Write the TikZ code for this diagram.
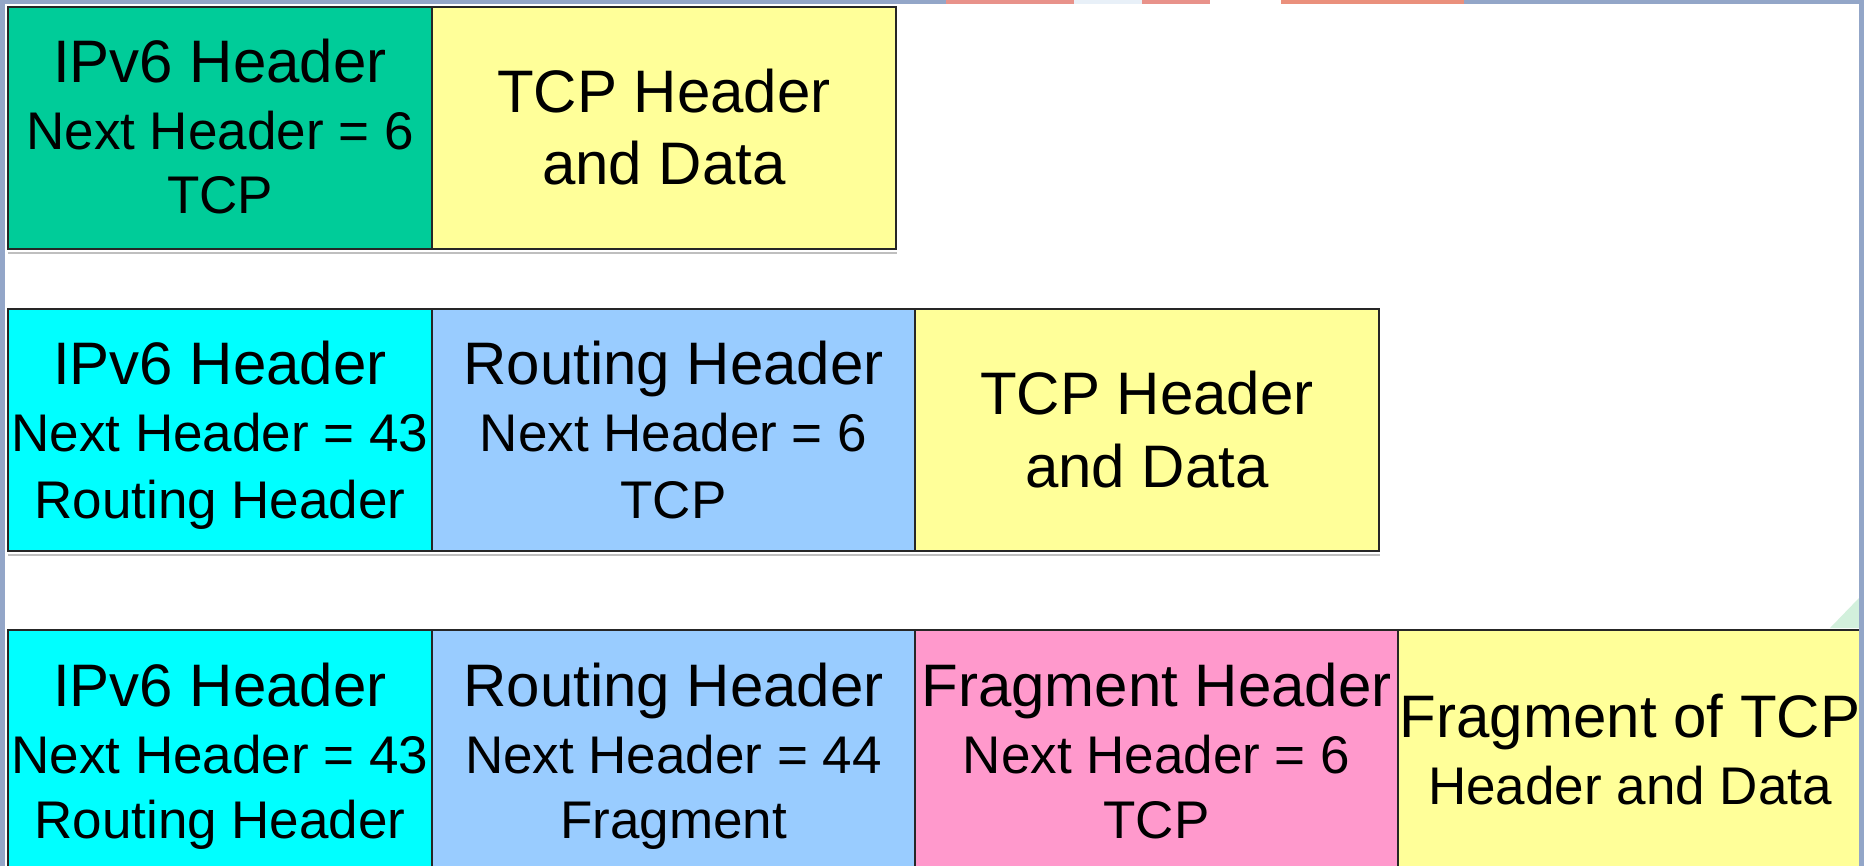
\documentclass[tikz,border=0pt]{standalone}
\usepackage{fontspec}
\setmainfont{Liberation Sans}
\usetikzlibrary{calc}
\definecolor{frameblue}{HTML}{93A6C8}
\definecolor{ipgreen}{HTML}{00CC99}
\definecolor{pktyellow}{HTML}{FFFF99}
\definecolor{ipcyan}{HTML}{00FFFF}
\definecolor{rtblue}{HTML}{99CCFF}
\definecolor{frpink}{HTML}{FF99CC}
\definecolor{salmon}{HTML}{E8928A}
\definecolor{paleblue}{HTML}{E8F0F8}
\definecolor{palegreen}{HTML}{D2F0DC}
\tikzset{
  pbox/.style={draw=black!85, line width=2pt, rectangle, anchor=north west, minimum height=242pt, inner sep=0pt},
  bigtxt/.style={anchor=base, inner sep=0pt, font=\fontsize{60}{72}\selectfont},
  smalltxt/.style={anchor=base, inner sep=0pt, font=\fontsize{53}{64}\selectfont},
  shadowline/.style={draw=black!25, line width=2pt}
}
\begin{document}
\begin{tikzpicture}[x=1pt,y=-1pt]
\useasboundingbox (0,0) rectangle (1864,866);
\fill[white] (0,0) rectangle (1864,866);
% decorative background remnants
\fill[palegreen] (1830,628) -- (1859,598) -- (1859,628) -- cycle;
% ---------- row 1 ----------
\node[pbox, fill=ipgreen, minimum width=424pt] (b11) at (7,6) {};
\node[pbox, fill=pktyellow, minimum width=464pt] (b12) at (431,6) {};
% ---------- row 2 ----------
\node[pbox, fill=ipcyan, minimum width=424pt] (b21) at (7,308) {};
\node[pbox, fill=rtblue, minimum width=483pt] (b22) at (431,308) {};
\node[pbox, fill=pktyellow, minimum width=464pt] (b23) at (914,308) {};
% ---------- row 3 ----------
\node[pbox, fill=ipcyan, minimum width=424pt] (b31) at (7,629) {};
\node[pbox, fill=rtblue, minimum width=483pt] (b32) at (431,629) {};
\node[pbox, fill=frpink, minimum width=483pt] (b33) at (914,629) {};
\node[pbox, fill=pktyellow, minimum width=480pt] (b34) at (1397,629) {};
% shadows under rows
\draw[shadowline] ($(b11.south west)+(1,3)$) -- ($(b12.south east)+(0,3)$);
\draw[shadowline] ($(b21.south west)+(1,3)$) -- ($(b23.south east)+(0,3)$);
% ---------- texts row 1 ----------
\node[bigtxt] (t11a) at ($(b11.north)+(0,77)$) {IPv6 Header};
\node[smalltxt] (t11b) at ($(b11.north)+(0,144)$) {Next Header = 6};
\node[smalltxt] (t11c) at ($(b11.north)+(0,208)$) {TCP};
\node[bigtxt] (t12a) at ($(b12.north)+(0,107)$) {TCP Header};
\node[bigtxt] (t12b) at ($(b12.north)+(0,179)$) {and Data};
% ---------- texts row 2 ----------
\node[bigtxt] (t21a) at ($(b21.north)+(0,77)$) {IPv6 Header};
\node[smalltxt] (t21b) at ($(b21.north)+(0,144)$) {Next Header = 43};
\node[smalltxt] (t21c) at ($(b21.north)+(0,210)$) {Routing Header};
\node[bigtxt] (t22a) at ($(b22.north)+(0,77)$) {Routing Header};
\node[smalltxt] (t22b) at ($(b22.north)+(0,144)$) {Next Header = 6};
\node[smalltxt] (t22c) at ($(b22.north)+(0,210)$) {TCP};
\node[bigtxt] (t23a) at ($(b23.north)+(0,107)$) {TCP Header};
\node[bigtxt] (t23b) at ($(b23.north)+(0,179)$) {and Data};
% ---------- texts row 3 ----------
\node[bigtxt] (t31a) at ($(b31.north)+(0,77)$) {IPv6 Header};
\node[smalltxt] (t31b) at ($(b31.north)+(0,144)$) {Next Header = 43};
\node[smalltxt] (t31c) at ($(b31.north)+(0,209)$) {Routing Header};
\node[bigtxt] (t32a) at ($(b32.north)+(0,77)$) {Routing Header};
\node[smalltxt] (t32b) at ($(b32.north)+(0,144)$) {Next Header = 44};
\node[smalltxt] (t32c) at ($(b32.north)+(0,209)$) {Fragment};
\node[bigtxt] (t33a) at ($(b33.north)+(0,77)$) {Fragment Header};
\node[smalltxt] (t33b) at ($(b33.north)+(0,144)$) {Next Header = 6};
\node[smalltxt] (t33c) at ($(b33.north)+(0,209)$) {TCP};
\node[bigtxt] (t34a) at ($(1630,629)+(0,108)$) {Fragment of TCP};
\node[smalltxt] (t34b) at ($(1630,629)+(0,175)$) {Header and Data};
% ---------- frame strips ----------
\fill[frameblue] (0,0) rectangle (5,866);
\fill[frameblue] (1859,0) rectangle (1864,866);
\fill[frameblue] (0,0) rectangle (1864,4);
\fill[salmon] (946,0) rectangle (1074,4);
\fill[paleblue] (1074,0) rectangle (1142,4);
\fill[salmon] (1142,0) rectangle (1210,4);
\fill[white] (1210,0) rectangle (1281,4);
\fill[salmon!90!orange] (1281,0) rectangle (1464,4);
\end{tikzpicture}
\end{document}
